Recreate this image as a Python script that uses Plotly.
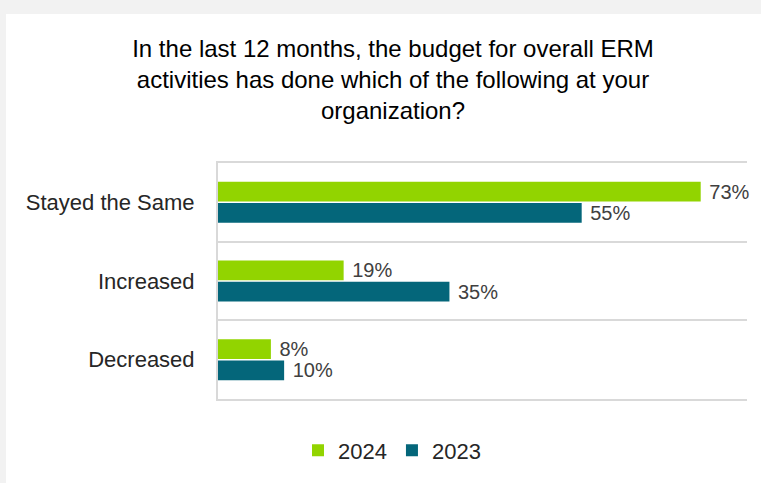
import plotly.graph_objects as go

# Survey responses: change in ERM budget over the last 12 months
categories = ["Stayed the Same", "Increased", "Decreased"]
share_2024 = [73, 19, 8]
share_2023 = [55, 35, 10]
series_names = ["2024", "2023"]
title_lines = [
    "In the last 12 months, the budget for overall ERM",
    "activities has done which of the following at your",
    "organization?",
]

GREEN = "#92d400"
TEAL = "#04667a"
GRID = "#d9d9d9"
FONT = "Liberation Sans, Arial, sans-serif"

fig = go.Figure()
for name, vals, color in [(series_names[0], share_2024, GREEN),
                          (series_names[1], share_2023, TEAL)]:
    fig.add_trace(go.Bar(
        y=categories, x=vals, name=name, orientation="h",
        marker=dict(color=color, line=dict(width=0)),
        text=[f" {v}%" for v in vals], textposition="outside",
        constraintext="none",
        textfont=dict(size=20, color="#404040", family=FONT),
        cliponaxis=False,
    ))

W, H = 761, 483
ML, MR, MT, MB = 218, 14, 163, 81
PW, PH = W - ML - MR, H - MT - MB

fig.update_layout(
    width=W, height=H,
    margin=dict(l=ML, r=MR, t=MT, b=MB),
    paper_bgcolor="#f2f2f2", plot_bgcolor="white",
    barmode="group", bargap=0.46, bargroupgap=0.07,
    font=dict(family=FONT, color="#262626"),
    title=dict(
        text="<br>".join(title_lines),
        x=393 / W, xanchor="center", y=1 - 57 / H, yanchor="top",
        font=dict(size=24, color="#000000", family=FONT),
    ),
    legend=dict(
        orientation="h", x=(392 - ML) / PW, xanchor="center",
        y=-52 / PH, yanchor="middle", bgcolor="rgba(0,0,0,0)",
        font=dict(size=22, color="#262626", family=FONT),
        traceorder="normal",
    ),
    xaxis=dict(range=[0, 80], showticklabels=False, showgrid=False,
               zeroline=False, showline=True, mirror=True, linecolor=GRID,
               linewidth=2, ticks=""),
    yaxis=dict(autorange="reversed", tickson="boundaries", showgrid=True,
               gridcolor=GRID, gridwidth=2, showline=True, linecolor=GRID,
               linewidth=2, ticks="", ticklabelstandoff=17,
               tickfont=dict(size=22, color="#262626", family=FONT)),
    shapes=[dict(type="rect", xref="paper", yref="paper",
                 x0=-(ML - 6) / PW, x1=1 + (MR + 10) / PW,
                 y0=-(MB + 10) / PH, y1=1 + (MT - 12) / PH,
                 fillcolor="white", line=dict(width=0), layer="below")],
)

fig.write_html("out.html")
